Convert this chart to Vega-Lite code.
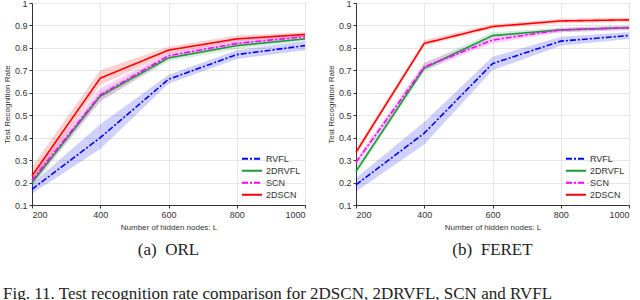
{
  "$schema": "https://vega.github.io/schema/vega-lite/v6.json",
  "padding": {"left": 2, "top": -2, "right": 5, "bottom": 0},
  "background": "white",
  "config": {
    "view": {"stroke": "#333333", "strokeWidth": 1},
    "axis": {"labelFont": "Liberation Sans", "labelFontSize": 9, "labelColor": "#333", "labelOverlap": false, "titleFont": "Liberation Sans", "titleFontSize": 8, "titleFontWeight": "normal", "titleColor": "#333", "gridColor": "#e6e6e6", "domainColor": "#333", "tickColor": "#333", "tickSize": 3},
    "legend": {"labelFont": "Liberation Sans", "labelFontSize": 9, "labelColor": "#333"},
    "concat": {"spacing": 17}
  },
  "title": {"text": "Fig. 11.   Test recognition rate comparison for 2DSCN, 2DRVFL, SCN and RVFL", "orient": "bottom", "anchor": "start", "font": "Liberation Serif", "fontSize": 17, "fontWeight": "normal", "color": "#222", "offset": 27},
  "datasets": {
    "d": [
      {"panel": "ORL", "method": "RVFL", "L": 200, "mean": 0.17, "lo": 0.15, "hi": 0.195},
      {"panel": "ORL", "method": "RVFL", "L": 400, "mean": 0.40, "lo": 0.35, "hi": 0.46},
      {"panel": "ORL", "method": "RVFL", "L": 600, "mean": 0.66, "lo": 0.64, "hi": 0.68},
      {"panel": "ORL", "method": "RVFL", "L": 800, "mean": 0.77, "lo": 0.75, "hi": 0.79},
      {"panel": "ORL", "method": "RVFL", "L": 1000, "mean": 0.81, "lo": 0.79, "hi": 0.83},
      {"panel": "ORL", "method": "2DRVFL", "L": 200, "mean": 0.20, "lo": 0.18, "hi": 0.22},
      {"panel": "ORL", "method": "2DRVFL", "L": 400, "mean": 0.585, "lo": 0.565, "hi": 0.605},
      {"panel": "ORL", "method": "2DRVFL", "L": 600, "mean": 0.755, "lo": 0.74, "hi": 0.77},
      {"panel": "ORL", "method": "2DRVFL", "L": 800, "mean": 0.81, "lo": 0.795, "hi": 0.825},
      {"panel": "ORL", "method": "2DRVFL", "L": 1000, "mean": 0.84, "lo": 0.83, "hi": 0.855},
      {"panel": "ORL", "method": "SCN", "L": 200, "mean": 0.21, "lo": 0.19, "hi": 0.235},
      {"panel": "ORL", "method": "SCN", "L": 400, "mean": 0.59, "lo": 0.56, "hi": 0.62},
      {"panel": "ORL", "method": "SCN", "L": 600, "mean": 0.765, "lo": 0.75, "hi": 0.78},
      {"panel": "ORL", "method": "SCN", "L": 800, "mean": 0.82, "lo": 0.81, "hi": 0.835},
      {"panel": "ORL", "method": "SCN", "L": 1000, "mean": 0.85, "lo": 0.84, "hi": 0.86},
      {"panel": "ORL", "method": "2DSCN", "L": 200, "mean": 0.23, "lo": 0.20, "hi": 0.27},
      {"panel": "ORL", "method": "2DSCN", "L": 400, "mean": 0.665, "lo": 0.635, "hi": 0.70},
      {"panel": "ORL", "method": "2DSCN", "L": 600, "mean": 0.79, "lo": 0.775, "hi": 0.805},
      {"panel": "ORL", "method": "2DSCN", "L": 800, "mean": 0.84, "lo": 0.83, "hi": 0.855},
      {"panel": "ORL", "method": "2DSCN", "L": 1000, "mean": 0.86, "lo": 0.85, "hi": 0.87},
      {"panel": "FERET", "method": "RVFL", "L": 200, "mean": 0.19, "lo": 0.16, "hi": 0.22},
      {"panel": "FERET", "method": "RVFL", "L": 400, "mean": 0.42, "lo": 0.37, "hi": 0.47},
      {"panel": "FERET", "method": "RVFL", "L": 600, "mean": 0.73, "lo": 0.70, "hi": 0.76},
      {"panel": "FERET", "method": "RVFL", "L": 800, "mean": 0.83, "lo": 0.81, "hi": 0.85},
      {"panel": "FERET", "method": "RVFL", "L": 1000, "mean": 0.855, "lo": 0.84, "hi": 0.87},
      {"panel": "FERET", "method": "2DRVFL", "L": 200, "mean": 0.25, "lo": 0.235, "hi": 0.27},
      {"panel": "FERET", "method": "2DRVFL", "L": 400, "mean": 0.71, "lo": 0.695, "hi": 0.73},
      {"panel": "FERET", "method": "2DRVFL", "L": 600, "mean": 0.855, "lo": 0.845, "hi": 0.87},
      {"panel": "FERET", "method": "2DRVFL", "L": 800, "mean": 0.88, "lo": 0.87, "hi": 0.89},
      {"panel": "FERET", "method": "2DRVFL", "L": 1000, "mean": 0.89, "lo": 0.88, "hi": 0.9},
      {"panel": "FERET", "method": "SCN", "L": 200, "mean": 0.29, "lo": 0.275, "hi": 0.305},
      {"panel": "FERET", "method": "SCN", "L": 400, "mean": 0.715, "lo": 0.70, "hi": 0.735},
      {"panel": "FERET", "method": "SCN", "L": 600, "mean": 0.835, "lo": 0.82, "hi": 0.85},
      {"panel": "FERET", "method": "SCN", "L": 800, "mean": 0.88, "lo": 0.87, "hi": 0.89},
      {"panel": "FERET", "method": "SCN", "L": 1000, "mean": 0.89, "lo": 0.88, "hi": 0.9},
      {"panel": "FERET", "method": "2DSCN", "L": 200, "mean": 0.335, "lo": 0.32, "hi": 0.35},
      {"panel": "FERET", "method": "2DSCN", "L": 400, "mean": 0.82, "lo": 0.81, "hi": 0.835},
      {"panel": "FERET", "method": "2DSCN", "L": 600, "mean": 0.895, "lo": 0.885, "hi": 0.905},
      {"panel": "FERET", "method": "2DSCN", "L": 800, "mean": 0.92, "lo": 0.91, "hi": 0.93},
      {"panel": "FERET", "method": "2DSCN", "L": 1000, "mean": 0.925, "lo": 0.915, "hi": 0.935}
    ]
  },
  "hconcat": [
    {
      "width": 273, "height": 202,
      "title": {"text": "(a)\u00a0\u00a0ORL", "orient": "bottom", "font": "Liberation Serif", "fontSize": 17, "fontWeight": "normal", "color": "#222", "offset": 11},
      "data": {"name": "d"},
      "transform": [{"filter": "datum.panel === 'ORL'"}],
      "encoding": {
        "x": {"field": "L", "type": "quantitative", "scale": {"domain": [200, 1000], "nice": false}, "axis": {"values": [200, 400, 600, 800, 1000], "format": "d", "title": "Number of hidden nodes: L", "titlePadding": 4, "labelPadding": 2, "labelOverlap": false}},
        "color": {"field": "method", "type": "nominal", "scale": {"domain": ["RVFL", "2DRVFL", "SCN", "2DSCN"], "range": ["#0000ff", "#1a9a3a", "#ff00ff", "#ff0000"]}, "legend": {"orient": "bottom-right", "title": null, "symbolType": "stroke", "offset": 4, "rowPadding": 0, "clipHeight": 11.5, "symbolSize": 400, "symbolStrokeWidth": 2, "labelOffset": 3}}
      },
      "layer": [
        {
          "mark": {"type": "area", "fillOpacity": 0.18, "strokeWidth": 0},
          "encoding": {
            "y": {"field": "lo", "type": "quantitative", "scale": {"domain": [0.1, 1], "nice": false}, "axis": {"values": [0.1, 0.2, 0.3, 0.4, 0.5, 0.6, 0.7, 0.8, 0.9, 1], "labelOverlap": false, "format": "~g", "title": "Test Recognition Rate", "titlePadding": 3, "labelPadding": 2}},
            "y2": {"field": "hi"}
          }
        },
        {
          "mark": {"type": "line", "strokeWidth": 1.6},
          "encoding": {
            "y": {"field": "mean", "type": "quantitative", "scale": {"domain": [0.1, 1], "nice": false}, "axis": {"values": [0.1, 0.2, 0.3, 0.4, 0.5, 0.6, 0.7, 0.8, 0.9, 1], "labelOverlap": false, "format": "~g", "title": "Test Recognition Rate", "titlePadding": 3, "labelPadding": 2}},
            "strokeDash": {"field": "method", "type": "nominal", "scale": {"domain": ["RVFL", "2DRVFL", "SCN", "2DSCN"], "range": [[6, 2, 2, 2], [1, 0], [6, 2, 2, 2], [1, 0]]}, "legend": {"orient": "bottom-right", "title": null, "symbolType": "stroke", "offset": 4, "rowPadding": 0, "clipHeight": 11.5, "symbolSize": 400, "symbolStrokeWidth": 2, "labelOffset": 3}}
          }
        }
      ]
    },
    {
      "width": 273, "height": 202,
      "title": {"text": "(b)\u00a0\u00a0FERET", "orient": "bottom", "font": "Liberation Serif", "fontSize": 17, "fontWeight": "normal", "color": "#222", "offset": 11},
      "data": {"name": "d"},
      "transform": [{"filter": "datum.panel === 'FERET'"}],
      "encoding": {
        "x": {"field": "L", "type": "quantitative", "scale": {"domain": [200, 1000], "nice": false}, "axis": {"values": [200, 400, 600, 800, 1000], "format": "d", "title": "Number of hidden nodes: L", "titlePadding": 4, "labelPadding": 2, "labelOverlap": false}},
        "color": {"field": "method", "type": "nominal", "scale": {"domain": ["RVFL", "2DRVFL", "SCN", "2DSCN"], "range": ["#0000ff", "#1a9a3a", "#ff00ff", "#ff0000"]}, "legend": {"orient": "bottom-right", "title": null, "symbolType": "stroke", "offset": 4, "rowPadding": 0, "clipHeight": 11.5, "symbolSize": 400, "symbolStrokeWidth": 2, "labelOffset": 3}}
      },
      "layer": [
        {
          "mark": {"type": "area", "fillOpacity": 0.18, "strokeWidth": 0},
          "encoding": {
            "y": {"field": "lo", "type": "quantitative", "scale": {"domain": [0.1, 1], "nice": false}, "axis": {"values": [0.1, 0.2, 0.3, 0.4, 0.5, 0.6, 0.7, 0.8, 0.9, 1], "labelOverlap": false, "format": "~g", "title": "Test Recognition Rate", "titlePadding": 3, "labelPadding": 2}},
            "y2": {"field": "hi"}
          }
        },
        {
          "mark": {"type": "line", "strokeWidth": 1.6},
          "encoding": {
            "y": {"field": "mean", "type": "quantitative", "scale": {"domain": [0.1, 1], "nice": false}, "axis": {"values": [0.1, 0.2, 0.3, 0.4, 0.5, 0.6, 0.7, 0.8, 0.9, 1], "labelOverlap": false, "format": "~g", "title": "Test Recognition Rate", "titlePadding": 3, "labelPadding": 2}},
            "strokeDash": {"field": "method", "type": "nominal", "scale": {"domain": ["RVFL", "2DRVFL", "SCN", "2DSCN"], "range": [[6, 2, 2, 2], [1, 0], [6, 2, 2, 2], [1, 0]]}, "legend": {"orient": "bottom-right", "title": null, "symbolType": "stroke", "offset": 4, "rowPadding": 0, "clipHeight": 11.5, "symbolSize": 400, "symbolStrokeWidth": 2, "labelOffset": 3}}
          }
        }
      ]
    }
  ],
  "resolve": {"scale": {"color": "independent", "strokeDash": "independent"}}
}
